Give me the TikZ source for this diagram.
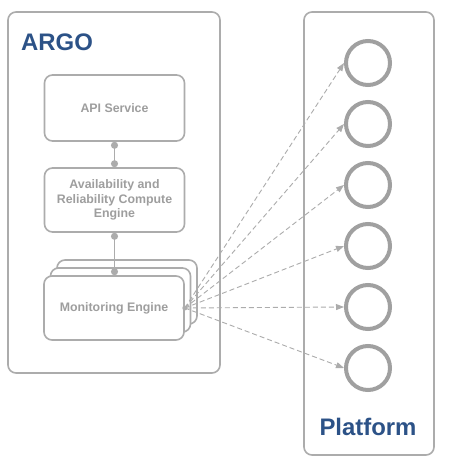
\documentclass[tikz,border=0pt]{standalone}
\usepackage{fontspec}
\setmainfont{Liberation Sans}
\usetikzlibrary{arrows.meta}
\definecolor{boxgray}{RGB}{172,172,172}
\definecolor{txtgray}{RGB}{158,158,158}
\definecolor{argoblue}{RGB}{44,82,135}
\definecolor{circgray}{RGB}{160,160,160}
\definecolor{dashgray}{RGB}{172,172,172}
\begin{document}
\begin{tikzpicture}[x=1bp,y=-1bp,
  container/.style={draw=boxgray, line width=1.6bp, rounded corners=8bp, fill=white, inner sep=0pt},
  compbox/.style={draw=boxgray, line width=1.6bp, rounded corners=8bp, fill=white, inner sep=0pt,
     minimum width=140bp, minimum height=64bp, text=txtgray, align=center,
     font=\bfseries\fontsize{12.4}{14.5}\selectfont},
  title/.style={text=argoblue, font=\bfseries\fontsize{24}{28}\selectfont, inner sep=0pt},
  endpoint/.style={draw=circgray, line width=4bp, circle, minimum size=44bp, inner sep=0pt},
  link/.style={draw=boxgray, line width=1.4bp, {Circle[length=7bp]}-{Circle[length=7bp]}},
  flow/.style={draw=dashgray, line width=0.9bp, dash pattern=on 5bp off 3bp, -{Triangle[length=8bp,width=6bp]}}
]
\useasboundingbox (0,0) rectangle (450,467);
\fill[white] (0,0) rectangle (450,467);

% containers
\node[container, minimum width=212bp, minimum height=361bp] (argo) at (114,192.5) {};
\node[container, minimum width=130bp, minimum height=443bp] (platform) at (369,233.5) {};
\node[title, anchor=west] (argotitle) at (21,42) {ARGO};
\node[title] (platformtitle) at (368,427) {Platform};

% components
\node[compbox, minimum height=66bp] (api) at (114.5,108) {API Service};
\node[compbox] (avail) at (114.5,200) {Availability and\\Reliability Compute\\Engine};
\node[compbox] (monback) at (127,292) {};
\node[compbox] (monmid) at (120.5,300) {};
\node[compbox] (mon) at (114,308) {Monitoring Engine};

\draw[link] (api.south) -- (avail.north);
\draw[link] (avail.south) -- (avail.south |- mon.north);

% platform endpoints
\foreach \i/\y in {1/63,2/124,3/185,4/246,5/307,6/368}{
  \node[endpoint] (c\i) at (368,\y) {};
}
\foreach \i in {1,...,6}{
  \draw[flow] (mon.east) -- (c\i.west);
}
\fill[boxgray] (mon.east) circle (2.5bp);
\end{tikzpicture}
\end{document}
